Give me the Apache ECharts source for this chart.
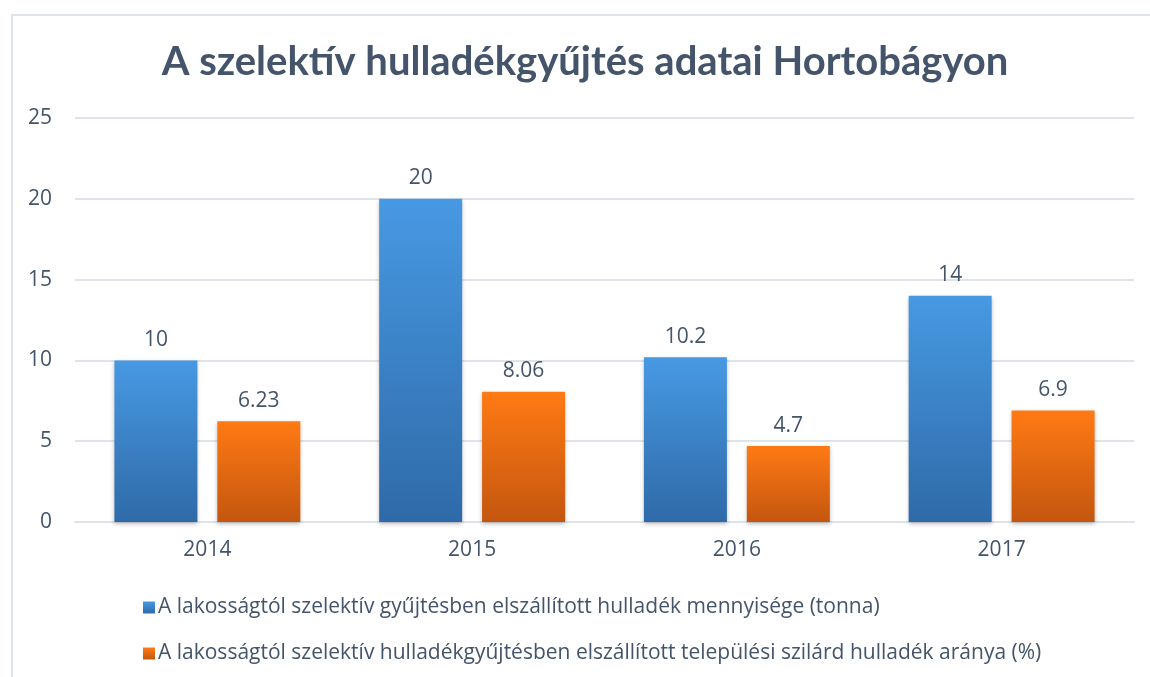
<!DOCTYPE html>
<html>
<head>
<meta charset="utf-8">
<script src="https://cdn.jsdelivr.net/npm/echarts@6/dist/echarts.min.js"></script>
<style>
  html, body { margin: 0; padding: 0; background: #ffffff; overflow: hidden; }
  #frame { position: absolute; left: 11px; top: 14px; width: 1200px; height: 700px; border: 2px solid #dfe4ec; box-sizing: border-box; }
  #chart { position: absolute; left: 0; top: 0; width: 1150px; height: 677px; }
</style>
</head>
<body>
<div id="frame"></div>
<div id="chart"></div>
<script>
// Years on the category axis
const years = ['2014', '2015', '2016', '2017'];
// Separately collected waste from households (tonnes)
const quantityTonnes = [10, 20, 10.2, 14];
// Share of separately collected municipal solid waste (%)
const sharePercent = [6.23, 8.06, 4.7, 6.9];
// Value axis ticks
const yMin = 0, yMax = 25, yStep = 5;

const seriesNames = [
  'A lakosságtól szelektív gyűjtésben elszállított hulladék mennyisége (tonna)',
  'A lakosságtól szelektív hulladékgyűjtésben elszállított települési szilárd hulladék aránya (%)'
];

const textColor = '#44546a';
const titleFont = 'Lato, "Open Sans", sans-serif';
const bodyFont = '"Open Sans", Lato, sans-serif';

function grad(top, bottom) {
  return new echarts.graphic.LinearGradient(0, 0, 0, 1, [
    { offset: 0, color: top },
    { offset: 1, color: bottom }
  ]);
}

const labelStyle = { show: true, position: 'top', distance: 10, fontFamily: bodyFont, fontSize: 21, color: textColor };

const chart = echarts.init(document.getElementById('chart'));
chart.setOption({
  animation: false,
  title: {
    text: 'A szelektív hulladékgyűjtés adatai Hortobágyon',
    left: 580,
    textAlign: 'center',
    top: 37,
    textStyle: { fontFamily: titleFont, fontSize: 40, fontWeight: 'bold', color: textColor }
  },
  grid: { left: 75, right: 16, top: 118, bottom: 155 },
  legend: {
    orient: 'vertical',
    left: 138,
    top: 592,
    itemWidth: 12,
    itemHeight: 12,
    itemGap: 25,
    icon: 'rect',
    textStyle: { fontFamily: bodyFont, fontSize: 21, color: textColor, padding: [0, 0, 0, -2] },
    data: seriesNames
  },
  xAxis: {
    type: 'category',
    data: years,
    axisLine: { show: true, lineStyle: { color: '#dfe4ea', width: 2 } },
    axisTick: { show: false },
    axisLabel: { fontFamily: bodyFont, fontSize: 21, color: textColor, margin: 18 }
  },
  yAxis: {
    type: 'value',
    min: yMin,
    max: yMax,
    interval: yStep,
    axisLine: { show: false },
    axisTick: { show: false },
    splitLine: { lineStyle: { color: '#dfe4ea', width: 2 } },
    axisLabel: { fontFamily: bodyFont, fontSize: 21, color: textColor, margin: 23 }
  },
  series: [
    {
      name: seriesNames[0],
      type: 'bar',
      data: quantityTonnes,
      barWidth: 83,
      barGap: '24%',
      itemStyle: {
        color: grad('#4799e3', '#2f6aa8'),
        shadowColor: 'rgba(0,0,0,0.25)', shadowBlur: 4, shadowOffsetY: 2
      },
      label: labelStyle
    },
    {
      name: seriesNames[1],
      type: 'bar',
      data: sharePercent,
      barWidth: 83,
      itemStyle: {
        color: grad('#ff7a14', '#c4560f'),
        shadowColor: 'rgba(0,0,0,0.25)', shadowBlur: 4, shadowOffsetY: 2
      },
      label: labelStyle
    }
  ]
});
</script>
</body>
</html>
